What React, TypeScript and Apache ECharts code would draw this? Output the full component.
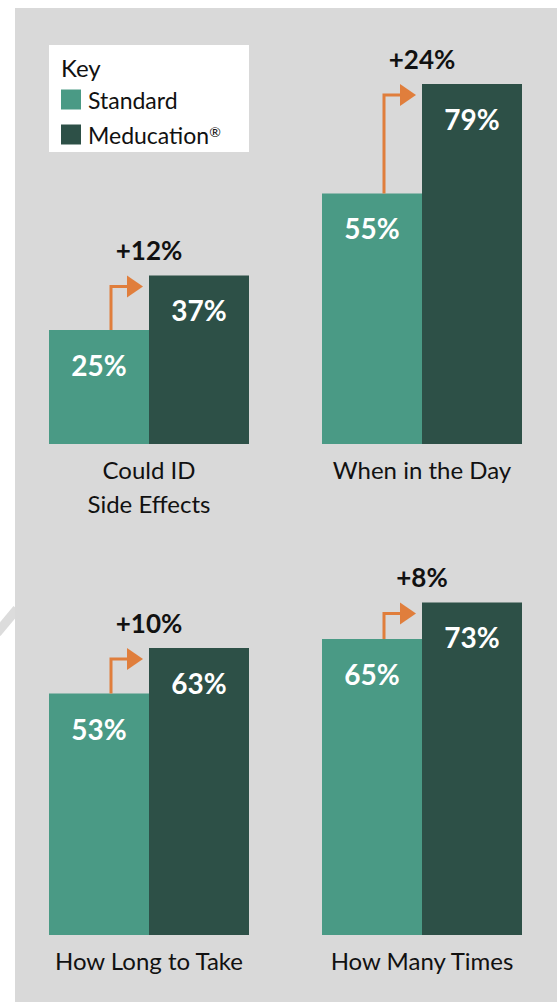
import React, { useEffect, useRef } from "react";
import * as echarts from "echarts";

const categories = ["Could ID\nSide Effects", "When in the Day", "How Long to Take", "How Many Times"];
const seriesNames = ["Standard", "Meducation®"];
const standardValues = [25, 55, 53, 65];
const meducationValues = [37, 79, 63, 73];
const legendTitle = "Key";

const FONT = "Lato, 'Noto Sans', sans-serif";
const C_STD = "#4A9A85";
const C_MED = "#2D5047";
const C_ARROW = "#E07E3C";
const C_BG = "#D9D9D9";

const panelPos = [
  { left: 49, top: 34 },
  { left: 322, top: 34 },
  { left: 49, top: 525 },
  { left: 322, top: 525 },
];

export default function App() {
  const ref = useRef<HTMLDivElement>(null);
  useEffect(() => {
    if (!ref.current) return;
    const chart = echarts.init(ref.current, null, { renderer: "svg" });
    const grid = panelPos.map((p) => ({ left: p.left, top: p.top, width: 200, height: 410 }));
    const xAxis = categories.map((c, i) => ({
      type: "category",
      gridIndex: i,
      data: [c],
      axisLine: { show: false },
      axisTick: { show: false },
      axisLabel: { fontSize: 24, lineHeight: 34, margin: 8, color: "#111", fontFamily: FONT },
    }));
    const yAxis = categories.map((_, i) => ({
      type: "value",
      gridIndex: i,
      min: 0,
      max: 90,
      show: false,
      splitLine: { show: false },
    }));
    const labelCfg = {
      show: true,
      position: "insideTop",
      distance: 21,
      color: "#fff",
      fontSize: 28,
      fontWeight: "bold",
      fontFamily: FONT,
      formatter: (p: any) => p.value + "%",
    };
    const series: any[] = [];
    categories.forEach((_, i) => {
      series.push({
        type: "bar",
        name: seriesNames[0],
        xAxisIndex: i,
        yAxisIndex: i,
        data: [standardValues[i]],
        barGap: "0%",
        barCategoryGap: "0%",
        itemStyle: { color: C_STD },
        label: labelCfg,
      });
      series.push({
        type: "bar",
        name: seriesNames[1],
        xAxisIndex: i,
        yAxisIndex: i,
        data: [meducationValues[i]],
        barGap: "0%",
        barCategoryGap: "0%",
        itemStyle: { color: C_MED },
        label: labelCfg,
      });
    });
    chart.setOption({
      animation: false,
      backgroundColor: "#fff",
      grid,
      xAxis,
      yAxis,
      series,
      legend: {
        data: seriesNames,
        orient: "vertical",
        left: 61,
        top: 88,
        padding: 0,
        itemWidth: 20,
        itemHeight: 20,
        itemGap: 12,
        icon: "rect",
        selectedMode: false,
        formatter: (name: string) =>
          name.endsWith("®") ? name.slice(0, -1) + "{sup|®}" : name,
        textStyle: {
          fontSize: 23,
          lineHeight: 20,
          color: "#111",
          fontFamily: FONT,
          padding: [0, 0, 0, 2],
          rich: {
            sup: { fontSize: 14, lineHeight: 20, verticalAlign: "top", padding: [0, 0, 12, 0], color: "#111", fontFamily: FONT },
          },
        },
      },
    });

    const elements: any[] = [
      {
        type: "line",
        shape: { x1: -3, y1: 633, x2: 17, y2: 609 },
        style: { stroke: "#DCDCDC", lineWidth: 9 },
        z: -2,
      },
      { type: "rect", shape: { x: 15, y: 8, width: 542, height: 994 }, style: { fill: C_BG }, z: -1 },
      { type: "rect", shape: { x: 49, y: 45, width: 200, height: 107 }, style: { fill: "#fff" }, z: 0 },
      {
        type: "text",
        x: 61,
        y: 67,
        style: { text: legendTitle, fontSize: 24, fontFamily: FONT, fill: "#111", verticalAlign: "middle" },
        z: 5,
      },
    ];
    categories.forEach((_, i) => {
      const [cx, yStd] = chart.convertToPixel({ gridIndex: i }, [0, standardValues[i]]) as number[];
      const yMed = (chart.convertToPixel({ gridIndex: i }, [0, meducationValues[i]]) as number[])[1];
      const diff = meducationValues[i] - standardValues[i];
      const ay = yMed + 11;
      elements.push({
        type: "polyline",
        shape: { points: [[cx - 38, yStd], [cx - 38, ay], [cx - 20, ay]] },
        style: { stroke: C_ARROW, lineWidth: 3, fill: null },
        z: 10,
      });
      elements.push({
        type: "polygon",
        shape: { points: [[cx - 22, yMed], [cx - 6, ay], [cx - 22, yMed + 22]] },
        style: { fill: C_ARROW },
        z: 10,
      });
      elements.push({
        type: "text",
        x: cx,
        y: yMed - 25,
        style: {
          text: "+" + diff + "%",
          fontSize: 26,
          fontWeight: "bold",
          fontFamily: FONT,
          fill: "#111",
          align: "center",
          verticalAlign: "middle",
        },
        z: 10,
      });
    });
    chart.setOption({ graphic: { elements } });
    return () => chart.dispose();
  }, []);
  return (
    <div
      ref={ref}
      style={{ position: "absolute", left: 0, top: 0, width: 557, height: 1002 }}
    />
  );
}
